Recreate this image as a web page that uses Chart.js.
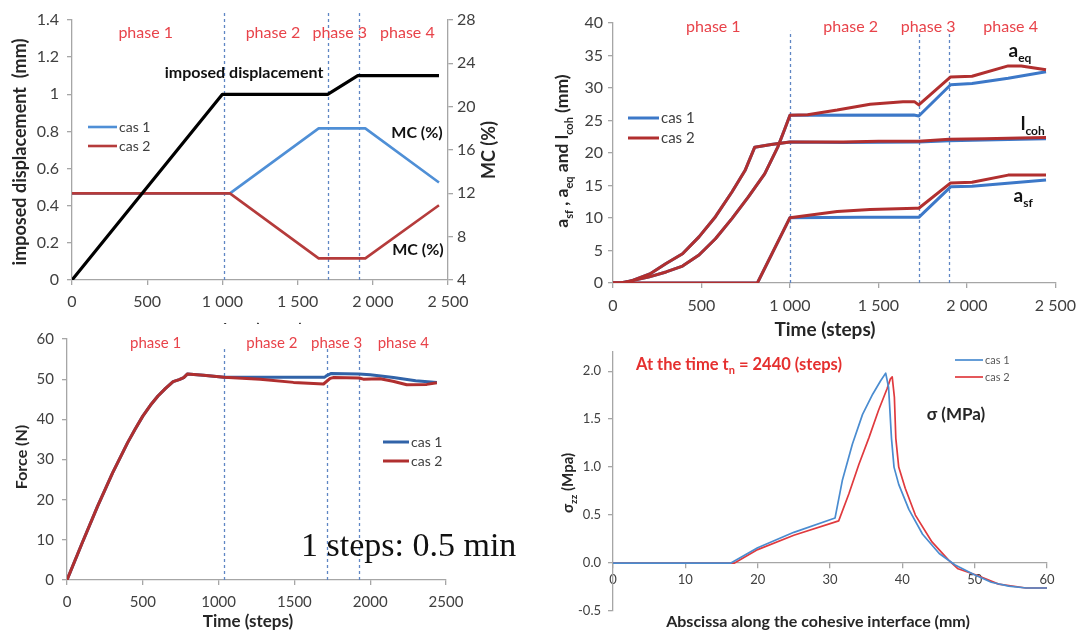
<!DOCTYPE html>
<html>
<head>
<meta charset="utf-8">
<script src="https://cdn.jsdelivr.net/npm/chart.js@4.4.1/dist/chart.umd.min.js"></script>
<style>
  html, body { margin: 0; padding: 0; background: #fff; }
  body { width: 1084px; height: 632px; position: relative; overflow: hidden; }
  .panel { position: absolute; }
  .panel canvas { display: block; }
</style>
</head>
<body>
<div class="panel" style="left:0;top:0;width:540px;height:324px"><canvas id="tl" width="540" height="324"></canvas></div>
<div class="panel" style="left:540px;top:0;width:544px;height:342px"><canvas id="tr" width="544" height="342"></canvas></div>
<div class="panel" style="left:0;top:322px;width:540px;height:310px"><canvas id="bl" width="540" height="310"></canvas></div>
<div class="panel" style="left:540px;top:330px;width:544px;height:302px"><canvas id="br" width="544" height="302"></canvas></div>
<script>
// ---- TOP LEFT: imposed displacement + moisture content ----
const tlDispX = [0, 1000, 1700, 1900, 2440];
const tlDisp = [0, 1, 1, 1.1, 1.1];
const tlMcX = [0, 1050, 1640, 1950, 2440];
const tlMcCas1 = [12, 12, 18, 18, 13];
const tlMcCas2 = [12, 12, 6, 6, 10.9];
const tlPhaseLines = [1012, 1700, 1905];
const tlXTicks = [0, 500, 1000, 1500, 2000, 2500];
const tlXLabels = ['0', '500', '1 000', '1 500', '2 000', '2 500'];
const tlYTicks = [0, 0.2, 0.4, 0.6, 0.8, 1, 1.2, 1.4];
const tlYLabels = ['0', '0.2', '0.4', '0.6', '0.8', '1', '1.2', '1.4'];
const tlMcTicks = [4, 8, 12, 16, 20, 24, 28];
const tlMcLabels = ['4', '8', '12', '16', '20', '24', '28'];

// ---- TOP RIGHT: a_sf, a_eq, l_coh ----
// phase 1 is the same for both cases
const trAeqP1X = [0, 60, 115, 200, 300, 393, 486, 579, 672, 764, 857, 931, 968, 1000];
const trAeqP1 = [0, 0, 0.4, 0.9, 1.7, 2.6, 4.3, 6.8, 9.9, 13.2, 16.8, 20.9, 23.5, 25.8];
const trAeqCas1X = [1700, 1728, 1908, 2029, 2233, 2447];
const trAeqCas1 = [25.85, 25.7, 30.5, 30.7, 31.5, 32.5];
const trAeqCas2X = [1100, 1267, 1453, 1639, 1703, 1728, 1908, 2029, 2233, 2307, 2447];
const trAeqCas2 = [25.9, 26.6, 27.5, 27.9, 27.9, 27.4, 31.7, 31.8, 33.4, 33.4, 32.8];
const trLcohP1X = [0, 40, 100, 208, 300, 393, 486, 579, 672, 746, 801, 894, 1000];
const trLcohP1 = [0, 0, 0.3, 1.4, 3.0, 4.5, 7.1, 10.2, 14.0, 17.3, 20.9, 21.3, 21.7];
const trLcohCas1X = [1300, 1728, 1900, 2100, 2300, 2447];
const trLcohCas1 = [21.6, 21.7, 21.9, 22.0, 22.1, 22.2];
const trLcohCas2X = [1300, 1500, 1728, 1900, 2100, 2300, 2447];
const trLcohCas2 = [21.7, 21.8, 21.8, 22.1, 22.2, 22.3, 22.4];
const trAsfP1X = [0, 816, 1000];
const trAsfP1 = [0, 0, 10.05];
const trAsfCas1X = [1400, 1728, 1908, 2029, 2447];
const trAsfCas1 = [10.1, 10.1, 14.8, 14.9, 15.85];
const trAsfCas2X = [1267, 1453, 1711, 1728, 1908, 2029, 2233, 2447];
const trAsfCas2 = [11.0, 11.3, 11.5, 11.5, 15.4, 15.5, 16.6, 16.6];
const trPhaseLines = [1002, 1728, 1899];
const trYTicks = [0, 5, 10, 15, 20, 25, 30, 35, 40];
const trYLabels = ['0', '5', '10', '15', '20', '25', '30', '35', '40'];

// ---- BOTTOM LEFT: force ----
const blP1X = [0, 100, 200, 300, 400, 450, 500, 550, 600, 650, 700, 740, 770, 795, 900, 1036];
const blP1 = [0, 9.2, 18.2, 26.6, 34.2, 37.6, 40.8, 43.5, 45.8, 47.7, 49.4, 49.9, 50.4, 51.3, 51.0, 50.5];
const blCas1X = [1300, 1700, 1714, 1740, 1927, 2000, 2153, 2300, 2440];
const blCas1 = [50.5, 50.5, 50.9, 51.4, 51.3, 51.1, 50.4, 49.6, 49.2];
const blCas2X = [1274, 1494, 1692, 1736, 1760, 1927, 1955, 2065, 2150, 2241, 2373, 2440];
const blCas2 = [50.0, 49.2, 48.8, 50.2, 50.4, 50.3, 50.0, 50.1, 49.5, 48.6, 48.7, 49.1];
const blPhaseLines = [1036, 1714, 1927];
const blXTicks = [0, 500, 1000, 1500, 2000, 2500];
const blXLabels = ['0', '500', '1000', '1500', '2000', '2500'];
const blYTicks = [0, 10, 20, 30, 40, 50, 60];
const blYLabels = ['0', '10', '20', '30', '40', '50', '60'];

// ---- BOTTOM RIGHT: sigma_zz along the interface ----
const brCas1X = [0, 16.3, 20, 25, 30.7, 31.7, 33.1, 34.5, 35.9, 37.0, 37.7, 38.1, 38.5, 38.85, 39.5, 40.9, 42.8, 45.1, 47.3, 49.9, 52.3, 54.7, 57.1, 60];
const brCas1 = [0, 0, 0.16, 0.32, 0.47, 0.86, 1.24, 1.55, 1.76, 1.90, 1.98, 1.83, 1.3, 1.0, 0.82, 0.56, 0.30, 0.10, -0.02, -0.12, -0.2, -0.24, -0.26, -0.26];
const brCas2X = [0, 16.8, 20, 25, 31.2, 32.6, 34.0, 35.4, 36.7, 37.9, 38.35, 38.6, 38.9, 39.1, 39.5, 40.4, 41.8, 44.1, 46.4, 47.7, 50.4, 53.3, 57.1, 60];
const brCas2 = [0, 0, 0.14, 0.29, 0.44, 0.72, 1.03, 1.31, 1.59, 1.82, 1.92, 1.94, 1.73, 1.3, 1.0, 0.78, 0.50, 0.22, 0.03, -0.06, -0.13, -0.22, -0.26, -0.26];
const brXTicks = [0, 10, 20, 30, 40, 50, 60];
const brXLabels = ['0', '10', '20', '30', '40', '50', '60'];
const brYTicks = [-0.5, 0, 0.5, 1, 1.5, 2];
const brYLabels = ['-0.5', '0.0', '0.5', '1.0', '1.5', '2.0'];

const phaseNames = ['phase 1', 'phase 2', 'phase 3', 'phase 4'];

// STYLE
const FONT = 'Lato, "Open Sans", sans-serif';
const AXIS = '#a6a6a6';
const TICK = '#404040';
const PHASE = '#e8434a';
const DASH = '#5f86c4';

function pts(xs, ys) { return xs.map((x, i) => ({ x, y: ys[i] })); }

function line(data, color, width, axisId) {
  return { data, borderColor: color, borderWidth: width, pointRadius: 0, fill: false, tension: 0, yAxisID: axisId || 'y', borderJoinStyle: 'round' };
}

function axis(min, max, vals, labels, size, pad, extra) {
  return Object.assign({
    type: 'linear', min, max,
    afterBuildTicks: s => { s.ticks = vals.map(v => ({ value: v })); },
    ticks: { callback: (v, i) => labels[i], color: TICK, font: { family: FONT, size }, padding: pad, autoSkip: false, maxRotation: 0 },
    grid: { drawOnChartArea: false, drawTicks: true, tickLength: 5, color: AXIS, lineWidth: 1.3 },
    border: { color: AXIS, width: 1.3 }
  }, extra);
}

// rich text with subscripts: parts = [[text, isSub], ...], y is the middle
function rich(ctx, parts, x, y, size, color, align) {
  const sub = Math.round(size * 0.65);
  let w = 0;
  parts.forEach(([t, s]) => { ctx.font = `bold ${s ? sub : size}px ${FONT}`; w += ctx.measureText(t).width; });
  let cx = align === 'left' ? x : x - w / 2;
  const base = y + size * 0.35;
  ctx.fillStyle = color;
  ctx.textAlign = 'left';
  ctx.textBaseline = 'alphabetic';
  parts.forEach(([t, s]) => {
    ctx.font = `bold ${s ? sub : size}px ${FONT}`;
    ctx.fillText(t, cx, base + (s ? size * 0.28 : 0));
    cx += ctx.measureText(t).width;
  });
}

function text(ctx, t, x, y, font, color, align) {
  ctx.font = font;
  ctx.fillStyle = color;
  ctx.textAlign = align || 'center';
  ctx.textBaseline = 'middle';
  ctx.fillText(t, x, y);
}

function vtext(ctx, x, y, fn) {
  ctx.save();
  ctx.translate(x, y);
  ctx.rotate(-Math.PI / 2);
  fn();
  ctx.restore();
}

function phaseLines(chart, xs, topVal) {
  const { ctx, scales: { x, y } } = chart;
  ctx.save();
  ctx.setLineDash([3, 3]);
  ctx.strokeStyle = DASH;
  ctx.lineWidth = 1.3;
  xs.forEach(v => {
    const px = Math.round(x.getPixelForValue(v)) + 0.5;
    ctx.beginPath();
    ctx.moveTo(px, y.getPixelForValue(0));
    ctx.lineTo(px, y.getPixelForValue(topVal));
    ctx.stroke();
  });
  ctx.restore();
}

function phaseLabels(chart, xs, py, size) {
  const { ctx, scales: { x } } = chart;
  xs.forEach((v, i) => text(ctx, phaseNames[i], x.getPixelForValue(v), py, `${size}px ${FONT}`, PHASE));
}

function legend(ctx, items, x0, x1, ys, size, lw, color) {
  items.forEach(([label, c], i) => {
    ctx.save();
    ctx.strokeStyle = c; ctx.lineWidth = lw;
    ctx.beginPath(); ctx.moveTo(x0, ys[i]); ctx.lineTo(x1, ys[i]); ctx.stroke();
    ctx.restore();
    text(ctx, label, x1 + 2, ys[i], `${size}px ${FONT}`, color, 'left');
  });
}

const base = {
  responsive: false, animation: false, devicePixelRatio: 1,
  plugins: { legend: { display: false }, tooltip: { enabled: false } },
  elements: { point: { radius: 0 } }
};

// TOP LEFT CHART
new Chart(document.getElementById('tl'), {
  type: 'line',
  data: {
    datasets: [
      line(pts(tlDispX, tlDisp), '#000000', 3.2),
      line(pts(tlMcX, tlMcCas2), '#b53b3b', 2.6, 'mc'),
      line(pts(tlMcX, tlMcCas1), '#4f8fd6', 2.6, 'mc')
    ]
  },
  options: Object.assign({}, base, {
    layout: { padding: { top: 20, right: 0, left: 0, bottom: 0 } },
    scales: {
      x: axis(0, 2500, tlXTicks, tlXLabels, 16, 7, { afterFit: s => { s.height = 44; } }),
      y: axis(0, 1.4, tlYTicks, tlYLabels, 16, 8, { position: 'left', afterFit: s => { s.width = 72; } }),
      mc: axis(4, 28, tlMcTicks, tlMcLabels, 16, 4, { position: 'right', afterFit: s => { s.width = 92; } })
    }
  }),
  plugins: [{
    id: 'tlDecor',
    beforeDatasetsDraw: c => phaseLines(c, tlPhaseLines, 1.45),
    afterDraw: c => {
      const { ctx, scales: { x, y } } = c;
      phaseLabels(c, [490, 1336, 1780, 2230], 33, 16);
      text(ctx, 'imposed displacement', x.getPixelForValue(1144), y.getPixelForValue(1.115), `bold 16px ${FONT}`, '#111');
      text(ctx, 'MC (%)', x.getPixelForValue(2294), y.getPixelForValue(0.79), `bold 16px ${FONT}`, '#111');
      text(ctx, 'MC (%)', x.getPixelForValue(2300), y.getPixelForValue(0.16), `bold 16px ${FONT}`, '#111');
      legend(ctx, [['cas 1', '#4f8fd6'], ['cas 2', '#b53b3b']], 88, 117, [127, 146], 14, 2.6, '#404040');
      vtext(ctx, 20, 152, () => text(ctx, 'imposed displacement  (mm)', 0, 0, `bold 18px ${FONT}`, '#262626'));
      vtext(ctx, 489, 150, () => text(ctx, 'MC (%)', 0, 0, `bold 18px ${FONT}`, '#262626'));
      text(ctx, 'Time (steps)', 258, 331, `bold 17px ${FONT}`, '#262626');
    }
  }]
});

// TOP RIGHT CHART
const RED = '#b12f2f', BLUE = '#3c78c8';
new Chart(document.getElementById('tr'), {
  type: 'line',
  data: {
    datasets: [
      line(pts(trAeqP1X.concat(trAeqCas2X), trAeqP1.concat(trAeqCas2)), RED, 3),
      line(pts(trLcohP1X.concat(trLcohCas2X), trLcohP1.concat(trLcohCas2)), RED, 3),
      line(pts(trAsfP1X.concat(trAsfCas2X), trAsfP1.concat(trAsfCas2)), RED, 3),
      line(pts(trAeqP1X.concat(trAeqCas1X), trAeqP1.concat(trAeqCas1)), BLUE, 3),
      line(pts(trLcohP1X.concat(trLcohCas1X), trLcohP1.concat(trLcohCas1)), BLUE, 3),
      line(pts(trAsfP1X.concat(trAsfCas1X), trAsfP1.concat(trAsfCas1)), BLUE, 3)
    ]
  },
  options: Object.assign({}, base, {
    layout: { padding: { top: 23, right: 26, left: 0, bottom: 0 } },
    scales: {
      x: axis(0, 2500, tlXTicks, tlXLabels, 16, 8, { afterFit: s => { s.height = 59; } }),
      y: axis(0, 40, trYTicks, trYLabels, 16, 5, { position: 'left', afterFit: s => { s.width = 73; } })
    }
  }),
  plugins: [{
    id: 'trDecor',
    beforeDatasetsDraw: c => phaseLines(c, trPhaseLines, 38.8),
    afterDraw: c => {
      const { ctx, scales: { x, y } } = c;
      phaseLabels(c, [567, 1343, 1781, 2247], 27, 16);
      rich(ctx, [['a', 0], ['eq', 1]], x.getPixelForValue(2300), y.getPixelForValue(35.8), 19, '#111');
      rich(ctx, [['l', 0], ['coh', 1]], x.getPixelForValue(2372), y.getPixelForValue(24.6), 19, '#111');
      rich(ctx, [['a', 0], ['sf', 1]], x.getPixelForValue(2318), y.getPixelForValue(13.5), 19, '#111');
      legend(ctx, [['cas 1', BLUE], ['cas 2', RED]], 88, 119, [118, 138], 15, 3, '#404040');
      vtext(ctx, 22, 151, () => rich(ctx, [['a', 0], ['sf', 1], [' , a', 0], ['eq', 1], [' and l', 0], ['coh', 1], [' (mm)', 0]], 0, 0, 17.5, '#262626'));
      text(ctx, 'Time (steps)', 285, 330, `bold 19px ${FONT}`, '#262626');
    }
  }]
});

// BOTTOM LEFT CHART
const RED2 = '#b02f2f', BLUE2 = '#3163a8';
new Chart(document.getElementById('bl'), {
  type: 'line',
  data: {
    datasets: [
      line(pts(blP1X.concat(blCas2X), blP1.concat(blCas2)), RED2, 3),
      line(pts(blP1X.concat(blCas1X), blP1.concat(blCas1)), BLUE2, 3)
    ]
  },
  options: Object.assign({}, base, {
    layout: { padding: { top: 14, right: 94, left: 0, bottom: 0 } },
    scales: {
      x: axis(0, 2500, blXTicks, blXLabels, 15, 8, { afterFit: s => { s.height = 52; } }),
      y: axis(0, 60, blYTicks, blYLabels, 15, 8, { position: 'left', afterFit: s => { s.width = 67; } })
    }
  }),
  plugins: [{
    id: 'blDecor',
    beforeDatasetsDraw: c => phaseLines(c, blPhaseLines, 57.5),
    afterDraw: c => {
      const { ctx } = c;
      phaseLabels(c, [585, 1351, 1779, 2218], 21, 15);
      legend(ctx, [['cas 1', BLUE2], ['cas 2', RED2]], 383, 409, [120, 139], 14, 3, '#404040');
      vtext(ctx, 22, 135, () => text(ctx, 'Force (N)', 0, 0, `bold 16px ${FONT}`, '#262626'));
      text(ctx, 'Time (steps)', 248, 300, `bold 17px ${FONT}`, '#262626');
      ctx.font = '34px "Liberation Serif", "Times New Roman", serif';
      ctx.fillStyle = '#111';
      ctx.textAlign = 'left';
      ctx.textBaseline = 'alphabetic';
      ctx.fillText('1 steps: 0.5 min', 301, 234);
    }
  }]
});

// BOTTOM RIGHT CHART
const RED3 = '#e03a3e', BLUE3 = '#4a8cd0';
new Chart(document.getElementById('br'), {
  type: 'line',
  data: {
    datasets: [
      line(pts(brCas1X, brCas1), BLUE3, 1.7),
      line(pts(brCas2X, brCas2), RED3, 1.7)
    ]
  },
  options: Object.assign({}, base, {
    layout: { padding: { top: 22, right: 37, left: 0, bottom: 21 } },
    scales: {
      x: axis(0, 60, brXTicks, brXLabels, 13, 4, { position: { y: 0 } }),
      y: axis(-0.5, 2.2, brYTicks, brYLabels, 13, 7, { position: 'left', afterFit: s => { s.width = 73; } })
    }
  }),
  plugins: [{
    id: 'brDecor',
    afterDraw: c => {
      const { ctx } = c;
      rich(ctx, [['At the time t', 0], ['n', 1], [' = 2440 (steps)', 0]], 96, 34, 16.5, '#e5302f', 'left');
      text(ctx, 'σ (MPa)', 416, 85, `bold 17px ${FONT}`, '#262626');
      legend(ctx, [['cas 1', BLUE3], ['cas 2', RED3]], 415, 443, [30, 47], 11, 1.7, '#595959');
      vtext(ctx, 28, 153, () => rich(ctx, [['σ', 0], ['zz', 1], [' (Mpa)', 0]], 0, 0, 15, '#262626'));
      text(ctx, 'Abscissa along the cohesive interface (mm)', 278, 292, `bold 16px ${FONT}`, '#262626');
    }
  }]
});
</script>
</body>
</html>
